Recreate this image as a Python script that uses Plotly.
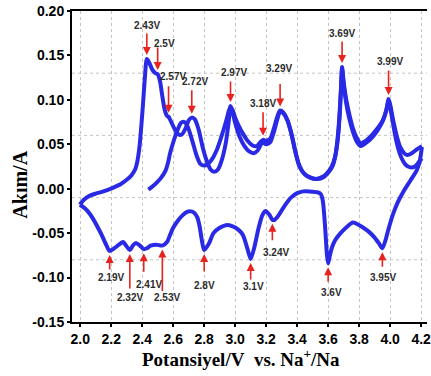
import numpy as np
import plotly.graph_objects as go

# ---- cyclic voltammogram (current in A vs potential in V vs. Na+/Na) ----
# first anodic sweep, starting from the open-circuit potential
v_ox1 = [2.44, 2.47, 2.50, 2.525, 2.55, 2.565, 2.58, 2.60, 2.615, 2.635, 2.65, 2.665,
         2.68, 2.70, 2.725, 2.75, 2.775, 2.80, 2.825, 2.85, 2.88, 2.91, 2.94, 2.96,
         2.97, 2.985, 3.00, 3.02, 3.05, 3.08, 3.11, 3.14, 3.165, 3.18, 3.20, 3.225,
         3.25, 3.27, 3.29, 3.31, 3.335, 3.36, 3.385, 3.41, 3.44, 3.48, 3.52, 3.56,
         3.59, 3.62, 3.645, 3.66, 3.672, 3.682, 3.69, 3.70, 3.715, 3.735, 3.76, 3.785,
         3.81, 3.835, 3.87, 3.91, 3.95, 3.975, 3.99, 4.00, 4.02, 4.045, 4.065, 4.09,
         4.11, 4.14, 4.17, 4.205]
i_ox1 = [-0.001, 0.003, 0.008, 0.013, 0.020, 0.028, 0.040, 0.052, 0.060, 0.069, 0.074, 0.0755,
         0.074, 0.067, 0.053, 0.038, 0.028, 0.026, 0.028, 0.033, 0.043, 0.058, 0.075, 0.088,
         0.092, 0.088, 0.080, 0.072, 0.062, 0.054, 0.049, 0.048, 0.053, 0.055, 0.054, 0.056,
         0.068, 0.080, 0.088, 0.086, 0.078, 0.064, 0.045, 0.028, 0.018, 0.013, 0.011, 0.013,
         0.017, 0.024, 0.036, 0.055, 0.080, 0.110, 0.137, 0.120, 0.102, 0.085, 0.068, 0.057,
         0.051, 0.053, 0.058, 0.066, 0.076, 0.088, 0.101, 0.095, 0.077, 0.058, 0.047, 0.040,
         0.038, 0.040, 0.044, 0.048]

# cathodic sweep from 4.2 V down to 2.0 V
v_red = [4.205, 4.19, 4.17, 4.13, 4.09, 4.05, 4.02, 3.99, 3.97, 3.95, 3.93, 3.90,
         3.86, 3.82, 3.76, 3.72, 3.68, 3.645, 3.625, 3.61, 3.60, 3.592, 3.583, 3.574,
         3.565, 3.552, 3.53, 3.48, 3.44, 3.40, 3.36, 3.32, 3.28, 3.255, 3.24, 3.22,
         3.195, 3.175, 3.15, 3.125, 3.10, 3.08, 3.05, 3.02, 2.98, 2.94, 2.90, 2.86,
         2.83, 2.80, 2.785, 2.77, 2.755, 2.735, 2.715, 2.69, 2.66, 2.63, 2.60, 2.58,
         2.56, 2.53, 2.49, 2.455, 2.43, 2.41, 2.385, 2.36, 2.34, 2.32, 2.30, 2.276,
         2.25, 2.22, 2.19, 2.17, 2.13, 2.065, 2.03, 1.998]
i_red = [0.047, 0.030, 0.020, 0.009, -0.002, -0.015, -0.028, -0.045, -0.058, -0.067, -0.062, -0.055,
         -0.048, -0.043, -0.038, -0.043, -0.050, -0.058, -0.066, -0.076, -0.084, -0.074, -0.050, -0.028,
         -0.013, -0.006, -0.004, -0.003, -0.003, -0.005, -0.010, -0.019, -0.030, -0.035, -0.035, -0.029,
         -0.025, -0.030, -0.045, -0.065, -0.079, -0.068, -0.052, -0.046, -0.042, -0.041, -0.044, -0.050,
         -0.062, -0.069, -0.058, -0.042, -0.032, -0.027, -0.0255, -0.026, -0.030, -0.036, -0.044, -0.052,
         -0.060, -0.064, -0.063, -0.064, -0.067, -0.068, -0.064, -0.061, -0.064, -0.069, -0.065, -0.060,
         -0.063, -0.067, -0.070, -0.064, -0.049, -0.029, -0.022, -0.018]

# second anodic sweep, starting from 2.0 V
v_ox2 = [1.998, 2.02, 2.06, 2.10, 2.15, 2.21, 2.26, 2.30, 2.33, 2.355, 2.37, 2.383,
         2.395, 2.405, 2.417, 2.43, 2.445, 2.465, 2.485, 2.50, 2.515, 2.53, 2.545, 2.56,
         2.57, 2.585, 2.61, 2.635, 2.655, 2.68, 2.70, 2.72, 2.74, 2.765, 2.79, 2.815,
         2.84, 2.865, 2.89, 2.915, 2.94, 2.958, 2.97, 2.985, 3.00, 3.03, 3.06, 3.09,
         3.12, 3.145, 3.17, 3.18, 3.20, 3.225, 3.25, 3.275, 3.29, 3.31, 3.34, 3.365,
         3.39, 3.415, 3.45, 3.49, 3.53, 3.57, 3.60, 3.63, 3.65, 3.665, 3.677, 3.685,
         3.69, 3.70, 3.715, 3.735, 3.76, 3.785, 3.81, 3.84, 3.88, 3.92, 3.955, 3.975,
         3.99, 4.00, 4.02, 4.045, 4.07, 4.10, 4.13, 4.16, 4.19, 4.205]
i_ox2 = [-0.018, -0.013, -0.008, -0.0055, -0.003, 0.001, 0.005, 0.010, 0.015, 0.022, 0.032, 0.048,
         0.072, 0.095, 0.124, 0.146, 0.142, 0.134, 0.130, 0.129, 0.121, 0.104, 0.089, 0.082,
         0.081, 0.076, 0.067, 0.061, 0.061, 0.068, 0.077, 0.080, 0.078, 0.066, 0.047, 0.032,
         0.022, 0.019, 0.022, 0.033, 0.052, 0.075, 0.093, 0.085, 0.074, 0.058, 0.048, 0.042,
         0.040, 0.043, 0.051, 0.052, 0.050, 0.052, 0.064, 0.080, 0.087, 0.085, 0.076, 0.060,
         0.040, 0.025, 0.016, 0.012, 0.011, 0.013, 0.018, 0.026, 0.040, 0.060, 0.090, 0.120,
         0.135, 0.118, 0.098, 0.080, 0.064, 0.053, 0.048, 0.051, 0.057, 0.066, 0.077, 0.088,
         0.099, 0.092, 0.072, 0.050, 0.036, 0.027, 0.024, 0.025, 0.031, 0.034]

# axis ticks
x_ticks = [2.0, 2.2, 2.4, 2.6, 2.8, 3.0, 3.2, 3.4, 3.6, 3.8, 4.0, 4.2]
x_tick_text = ["2.0", "2.2", "2.4", "2.6", "2.8", "3.0", "3.2", "3.4", "3.6", "3.8", "4.0", "4.2"]
y_ticks = [-0.15, -0.10, -0.05, 0.00, 0.05, 0.10, 0.15, 0.20]
y_tick_text = ["-0.15", "-0.10", "-0.05", "0.00", "0.05", "0.10", "0.15", "0.20"]

# peak potentials marked on the curves
ox_peaks = [2.43, 2.5, 2.57, 2.72, 2.97, 3.18, 3.29, 3.69, 3.99]
ox_labels = ["2.43V", "2.5V", "2.57V", "2.72V", "2.97V", "3.18V", "3.29V", "3.69V", "3.99V"]
red_peaks = [2.19, 2.32, 2.41, 2.53, 2.8, 3.1, 3.24, 3.6, 3.95]
red_labels = ["2.19V", "2.32V", "2.41V", "2.53V", "2.8V", "3.1V", "3.24V", "3.6V", "3.95V"]

# label placement (pixels): arrow length, text distance from the curve, sideways shift
ox_arrow_len = [27, 28, 32, 29, 26, 29, 28, 27, 30]
ox_text_off = [33, 31, 40, 36, 34, 36, 42, 33, 37]
ox_text_dx = [0, 7, 4, 3, 3, 0, -1, 0, 1]
red_arrow_len = [20, 40, 24, 47, 23, 22, 22, 20, 20]
red_text_off = [27, 47, 35, 52, 35, 28, 33, 29, 29]
red_text_dx = [1, 0, 5, 5, 0, 3, 4, 3, 1]

# the horizontal grid splits the plot height into equal bands
GRID_BANDS = 5

BLUE = "#2a2ae6"
RED = "#e8221e"
LABEL = "#2b2b2b"
GRID = "#c4c4c4"


def current_at(v, vs, cs):
    vs = np.asarray(vs, dtype=float)
    cs = np.asarray(cs, dtype=float)
    order = np.argsort(vs)
    return float(np.interp(v, vs[order], cs[order]))


fig = go.Figure()

line_style = dict(color=BLUE, width=4, shape="spline", smoothing=0.7)
for vs, cs in ((v_ox1, i_ox1), (v_red, i_red), (v_ox2, i_ox2)):
    fig.add_trace(go.Scatter(x=vs, y=cs, mode="lines", line=line_style,
                             showlegend=False, hoverinfo="skip"))

# dotted horizontal grid lines, behind the curves
shapes = []
for k in range(1, GRID_BANDS):
    shapes.append(dict(type="line", xref="paper", yref="paper", x0=0, x1=1,
                       y0=k / GRID_BANDS, y1=k / GRID_BANDS, layer="below",
                       line=dict(color=GRID, width=1, dash="dot")))

annotations = []
for k, v in enumerate(ox_peaks):
    i_pk = max(current_at(v, v_ox1, i_ox1), current_at(v, v_ox2, i_ox2))
    annotations.append(dict(x=v, y=i_pk, xref="x", yref="y", text="", showarrow=True,
                            ax=0, ay=-ox_arrow_len[k], arrowhead=2, arrowsize=1,
                            arrowwidth=1.6, arrowcolor=RED, standoff=4))
    annotations.append(dict(x=v, y=i_pk, xref="x", yref="y", text=ox_labels[k],
                            showarrow=False, yshift=ox_text_off[k], xshift=ox_text_dx[k],
                            font=dict(family="Liberation Sans", size=10, color=LABEL,
                                      weight="bold")))
for k, v in enumerate(red_peaks):
    i_pk = current_at(v, v_red, i_red)
    annotations.append(dict(x=v, y=i_pk, xref="x", yref="y", text="", showarrow=True,
                            ax=0, ay=red_arrow_len[k], arrowhead=2, arrowsize=1,
                            arrowwidth=1.6, arrowcolor=RED, standoff=4))
    annotations.append(dict(x=v, y=i_pk, xref="x", yref="y", text=red_labels[k],
                            showarrow=False, yshift=-red_text_off[k], xshift=red_text_dx[k],
                            font=dict(family="Liberation Sans", size=10, color=LABEL,
                                      weight="bold")))

# axis titles
annotations.append(dict(text="Potansiyel/V\u00a0 vs. Na<sup>+</sup>/Na", xref="paper", yref="paper",
                        x=0.476, y=-0.116, xanchor="center", yanchor="middle", showarrow=False,
                        font=dict(family="Liberation Serif", size=19, color="black",
                                  weight="bold")))
annotations.append(dict(text="Akım/A", xref="paper", yref="paper", textangle=-90,
                        x=-0.145, y=0.44, xanchor="center", yanchor="middle", showarrow=False,
                        font=dict(family="Liberation Serif", size=20, color="black",
                                  weight="bold")))

tick_font = dict(family="Liberation Sans", size=14, color="black", weight="bold")

fig.update_layout(
    width=431, height=376,
    margin=dict(l=72, r=0, t=11, b=54),
    paper_bgcolor="white", plot_bgcolor="white",
    font=dict(family="Liberation Sans"),
    xaxis=dict(range=[1.947, 4.238], tickvals=x_ticks, ticktext=x_tick_text,
               showline=True, linecolor="black", linewidth=2, mirror=True,
               ticks="outside", ticklen=3, tickwidth=1.5, tickcolor="black",
               showgrid=True, gridcolor=GRID, griddash="dot", gridwidth=1,
               zeroline=False, tickfont=tick_font, ticklabeloverflow="allow"),
    yaxis=dict(range=[-0.15, 0.20], tickvals=y_ticks, ticktext=y_tick_text,
               showline=True, linecolor="black", linewidth=2,
               ticks="outside", ticklen=3, tickwidth=1.5, tickcolor="black",
               showgrid=False, zeroline=False, tickfont=tick_font),
    shapes=shapes,
    annotations=annotations,
)

fig.write_html("out.html")
